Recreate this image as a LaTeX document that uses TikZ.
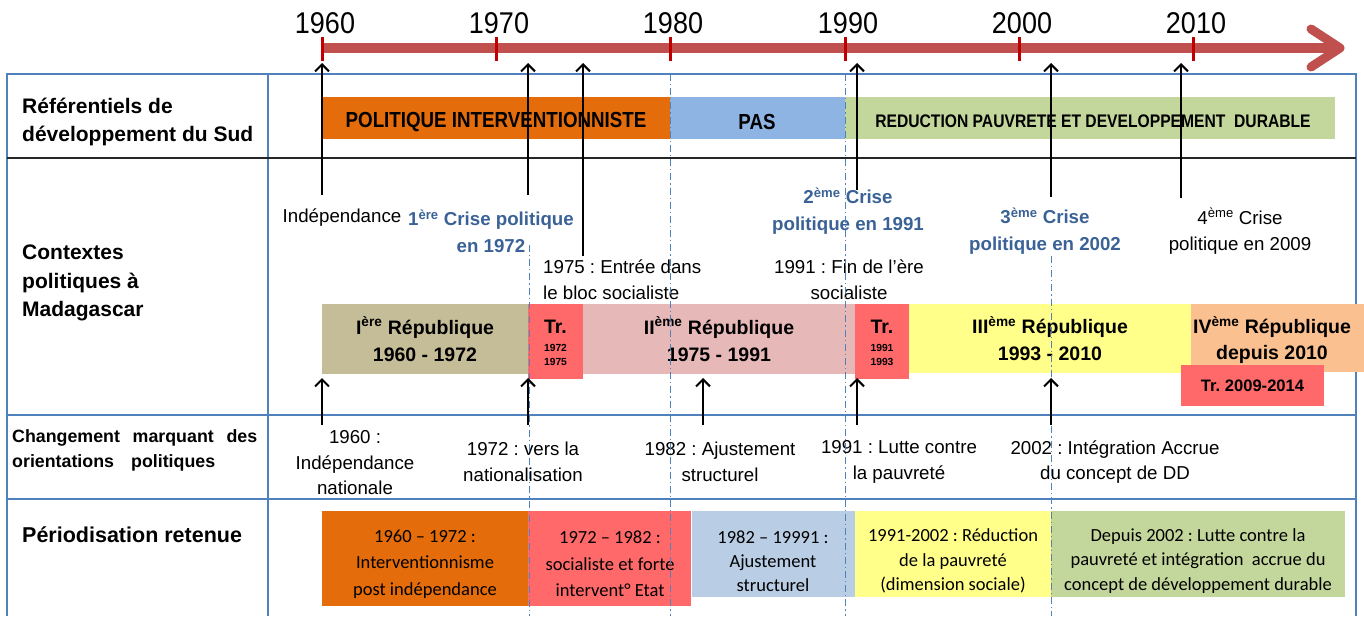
\documentclass[tikz,border=0pt]{standalone}
\usepackage{fontspec}
\setmainfont{Liberation Sans}
\newfontfamily\narrowf[FakeStretch=0.86]{Liberation Sans}
\newfontfamily\yearf[FakeStretch=0.9]{Liberation Sans}
\newfontfamily\twf{Carlito}
\usetikzlibrary{arrows.meta}
\definecolor{tlred}{HTML}{C0504D}
\definecolor{tick}{HTML}{C00000}
\definecolor{tblue}{HTML}{4F81BD}
\definecolor{corange}{HTML}{E46C0A}
\definecolor{cpas}{HTML}{8EB4E3}
\definecolor{cgreen}{HTML}{C3D69B}
\definecolor{ckhaki}{HTML}{C4BD97}
\definecolor{ctr}{HTML}{FF6969}
\definecolor{cpink}{HTML}{E6B9B8}
\definecolor{cyellow}{HTML}{FFFF89}
\definecolor{cpeach}{HTML}{FAC090}
\definecolor{clblue}{HTML}{B9CDE5}
\definecolor{ctext}{HTML}{3A6296}
\frenchspacing
\begin{document}
\frenchspacing
\begin{tikzpicture}[x=1pt,y=-1pt,
  box/.style={anchor=north west, inner sep=0pt, outer sep=0pt, align=center, draw=none},
  yearlab/.style={font=\yearf\fontsize{30}{32}\selectfont, inner sep=0pt},
  ticks/.style={draw=tick, line width=3pt},
  tline/.style={draw=tblue, line width=1.2pt},
  sepline/.style={draw=black!85, line width=2pt},
  dd/.style={draw=tblue, line width=1pt, dash pattern=on 7pt off 3pt on 1.2pt off 3pt},
  arr/.style={draw=black, line width=2.2pt, -{Straight Barb[length=7pt,width=14pt,line width=2pt]}},
  head/.style={anchor=west, align=left, inner sep=0pt, font=\bfseries\fontsize{21}{28}\selectfont},
  ctx/.style={inner sep=0pt, align=center, font=\fontsize{18.7}{26}\selectfont},
  crise/.style={inner sep=0pt, align=center, text=ctext, font=\bfseries\fontsize{18.7}{27}\selectfont},
  rep/.style={box, font=\bfseries\fontsize{19.5}{27}\selectfont},
  reftext/.style={inner sep=0pt, font=\narrowf\bfseries\fontsize{21.8}{24}\selectfont},
  pertext/.style={inner sep=0pt, align=center, font=\twf\fontsize{18.5}{26.5}\selectfont},
  pertextb/.style={pertext, font=\twf\fontsize{18.5}{24.2}\selectfont}
]
\useasboundingbox (0,0) rectangle (1364,616);

% ---------- table ----------
\coordinate (tl) at (7,74);
\coordinate (tr) at (1356,74);
\draw[tline] (7,616) -- (tl) -- (tr) -- (1356,616);
\draw[tline] (268,74) -- (268,616);
\draw[sepline] (7,158) -- (1356,158);
\draw[tline] (7,415) -- (1356,415);
\draw[tline] (7,499) -- (1356,499);

% ---------- timeline ----------
\coordinate (t0) at (322,48);
\coordinate (tEnd) at (1337,48);
\draw[tlred, line width=10pt] (t0) -- (tEnd);
\draw[tlred, line width=9pt, line cap=round, line join=round] (1311,29) -- (1340,48) -- (1311,67);
\foreach \x/\y in {322/1960,496/1970,670/1980,845/1990,1019/2000,1193/2010}{
  \draw[ticks] (\x,37) -- (\x,61);
  \node[yearlab] (y\y) at (\x+3,23) {\y};
}

% ---------- row 1 ----------
\node[head] (lab1) at (22,122) {Référentiels de\\développement du Sud};
\node[box, fill=corange, minimum width=348pt, minimum height=42pt] (pi) at (322,97) {};
\node[box, fill=cpas, minimum width=175pt, minimum height=42pt] (pas) at (670,97) {};
\node[box, fill=cgreen, minimum width=490pt, minimum height=42pt] (rpd) at (845,97) {};
\node[reftext] (pitx) at (496,122) {POLITIQUE INTERVENTIONNISTE};
\node[reftext] (pastx) at (757,122) {PAS};
\node[reftext, font=\narrowf\bfseries\fontsize{18.2}{20}\selectfont] (rpdtx) at (1093,121) {REDUCTION PAUVRETE ET DEVELOPPEMENT\ \ DURABLE};

% ---------- row 2 ----------
\node[head, font=\bfseries\fontsize{21}{28.5}\selectfont] (lab2) at (22,283) {Contextes\\politiques à\\Madagascar};
\node[rep, fill=ckhaki, minimum width=206pt, minimum height=70pt] (r1) at (322,304) {I\textsuperscript{ère} République\\1960 - 1972};
\node[rep, fill=ctr, minimum width=55pt, minimum height=75pt] (tr1) at (528,304) {};
\node[rep, fill=cpink, minimum width=272pt, minimum height=70pt] (r2) at (583,304) {II\textsuperscript{ème} République\\1975 - 1991};
\node[rep, fill=ctr, minimum width=54pt, minimum height=75pt] (tr2) at (855,304) {};
\node[rep, fill=cyellow, minimum width=282pt, minimum height=69pt] (r3) at (909,304) {III\textsuperscript{ème} République\\1993 - 2010};
\node[rep, fill=cpeach, minimum width=173pt, minimum height=68pt] (r4) at (1191,304) {};
\node[inner sep=0pt, align=center, font=\bfseries\fontsize{19.5}{26}\selectfont] (r4t) at (1272,340) {IV\textsuperscript{ème} République\\depuis 2010};
\node[rep, fill=ctr, minimum width=143pt, minimum height=41pt, font=\bfseries\fontsize{16.6}{20}\selectfont] (tr3) at (1181,365) {Tr. 2009-2014};
\node[inner sep=0pt, font=\bfseries\fontsize{19.5}{20}\selectfont] (tr1a) at (555.5,327) {Tr.};
\node[inner sep=0pt, align=center, font=\bfseries\fontsize{10.3}{14}\selectfont] (tr1b) at (555.5,355) {1972\\1975};
\node[inner sep=0pt, font=\bfseries\fontsize{19.5}{20}\selectfont] (tr2a) at (882,327) {Tr.};
\node[inner sep=0pt, align=center, font=\bfseries\fontsize{10.3}{14}\selectfont] (tr2b) at (882,355) {1991\\1993};

\node[ctx] (ind) at (342,218) {Indépendance};
\node[crise] (c1) at (491,231) {1\textsuperscript{ère} Crise politique\\en 1972};
\node[ctx, anchor=west, align=left] (e75) at (543,280) {1975 : Entrée dans\\le bloc socialiste};
\node[crise] (c2) at (848,211) {2\textsuperscript{ème} Crise\\politique en 1991};
\node[ctx] (f91) at (849,280) {1991 : Fin de l’ère\\socialiste};
\node[crise] (c3) at (1045,231) {3\textsuperscript{ème} Crise\\politique en 2002};
\node[ctx] (c4) at (1240,231) {4\textsuperscript{ème} Crise\\politique en 2009};

% ---------- row 3 ----------
\node[head, font=\bfseries\fontsize{17.8}{25}\selectfont] (lab3) at (12,450) {\makebox[245pt][s]{Changement marquant des}\\\makebox[203pt][s]{orientations politiques}};
\node[ctx, font=\fontsize{18.7}{25.5}\selectfont] (ch60) at (355,463) {1960 :\\Indépendance\\nationale};
\node[ctx, font=\fontsize{18.7}{25.5}\selectfont] (ch72) at (523,462) {1972 : vers la\\nationalisation};
\node[ctx, font=\fontsize{18.7}{25.5}\selectfont] (ch82) at (720,462) {1982 : Ajustement\\structurel};
\node[ctx, font=\fontsize{18.7}{25.5}\selectfont] (ch91) at (899,462) {1991 : Lutte contre\\la pauvreté};
\node[ctx, font=\fontsize{18.7}{25.5}\selectfont] (ch02) at (1115,462) {2002 : Intégration Accrue\\du concept de DD};

% ---------- row 4 ----------
\node[head, font=\bfseries\fontsize{21.5}{26}\selectfont] (lab4) at (22,535) {Périodisation retenue};
\node[box, fill=corange, minimum width=206pt, minimum height=95pt] (p1) at (322,511) {};
\node[box, fill=ctr, minimum width=163pt, minimum height=95pt] (p2) at (528,511) {};
\node[box, fill=clblue, minimum width=163pt, minimum height=86pt] (p3) at (692,511) {};
\node[box, fill=cyellow, minimum width=196pt, minimum height=86pt] (p4) at (855,511) {};
\node[box, fill=cgreen, minimum width=294pt, minimum height=86pt] (p5) at (1051,511) {};
\node[pertext] (p1t) at (425,564) {1960 – 1972 :\\Interventionnisme\\post indépendance};
\node[pertext] (p2t) at (610,564) {1972 – 1982 :\\socialiste et forte\\intervent° Etat};
\node[pertextb] (p3t) at (773,561) {1982 – 19991 :\\Ajustement\\structurel};
\node[pertextb] (p4t) at (953,561) {1991-2002 : Réduction\\de la pauvreté\\(dimension sociale)};
\node[pertextb] (p5t) at (1198,561) {Depuis 2002 : Lutte contre la\\pauvreté et intégration\ \ accrue du\\concept de développement durable};

% ---------- dashed year lines ----------
\draw[dd] (529,245) -- (529,616);
\draw[dd] (670,74) -- (670,616);
\draw[dd] (845,74) -- (845,616);
\draw[dd] (1051,256) -- (1051,616);

% ---------- arrows to the timeline ----------
\foreach \n/\x/\yb in {a60/322/195,a72/528/195,a75/583/256,a91/857/190,a02/1051/197,a09/1181/198}{
  \coordinate (\n b) at (\x,\yb);
  \coordinate (\n t) at (\x,63);
  \draw[arr] (\n b) -- (\n t);
}
% ---------- arrows from changes to the republics ----------
\foreach \n/\x in {u60/322,u72/528,u82/703,u91/857,u02/1051}{
  \coordinate (\n b) at (\x,425);
  \coordinate (\n t) at (\x,378);
  \draw[arr] (\n b) -- (\n t);
}
\end{tikzpicture}
\end{document}
